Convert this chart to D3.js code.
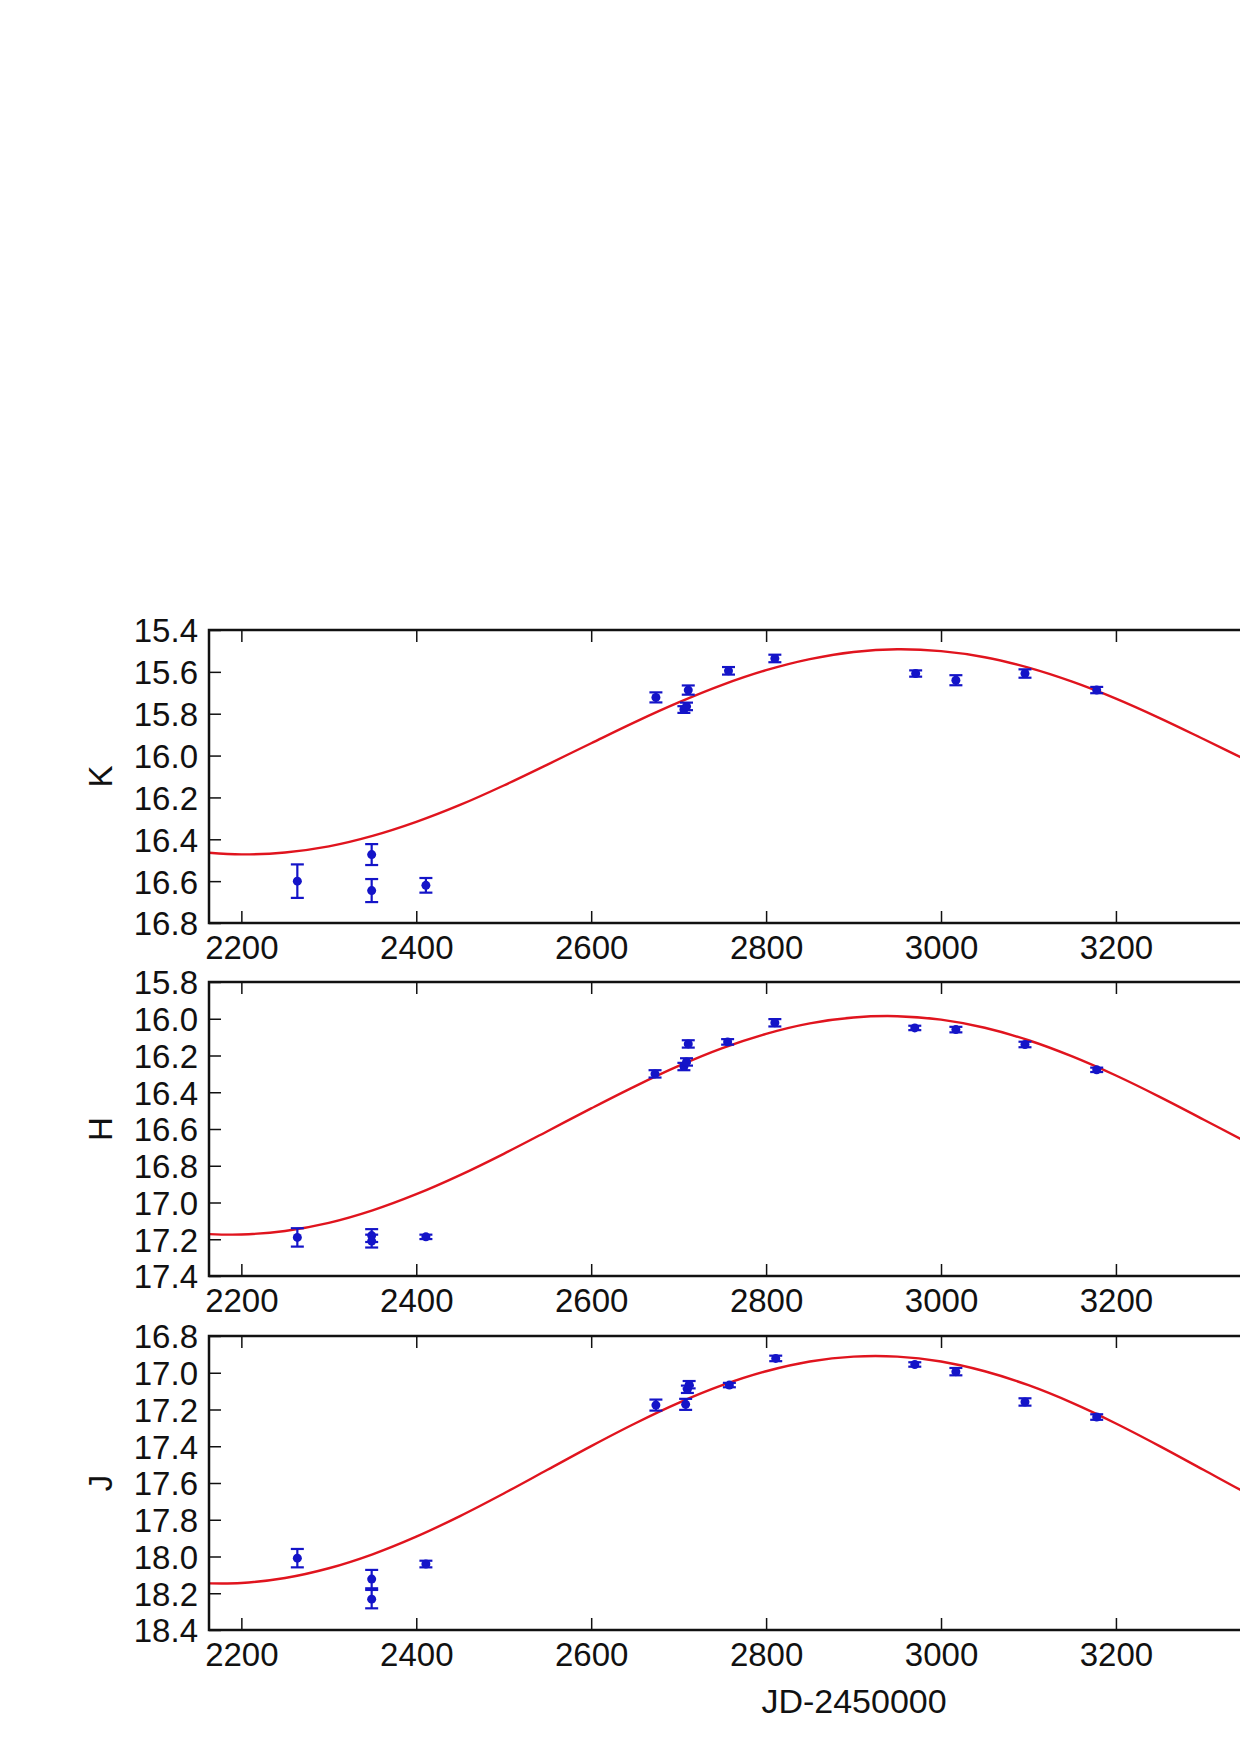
<!DOCTYPE html>
<html>
<head>
<meta charset="utf-8">
<script src="https://cdn.jsdelivr.net/npm/d3@7"></script>
<style>
  html, body { margin: 0; padding: 0; background: #fff; }
  svg { display: block; }
  text { font-family: "Liberation Sans", Arial, sans-serif; fill: #111; }
</style>
</head>
<body>
<svg id="chart" width="1240" height="1755"></svg>
<script>
// ---------------- data ----------------
const bands = ["K", "H", "J"];
const xTicks = [2200, 2400, 2600, 2800, 3000, 3200];
const kTicks = [15.4, 15.6, 15.8, 16.0, 16.2, 16.4, 16.6, 16.8];
const hTicks = [15.8, 16.0, 16.2, 16.4, 16.6, 16.8, 17.0, 17.2, 17.4];
const jTicks = [16.8, 17.0, 17.2, 17.4, 17.6, 17.8, 18.0, 18.2, 18.4];
const kDomain = [15.4, 16.8];
const hDomain = [15.8, 17.4];
const jDomain = [16.8, 18.4];
const xDomain = [2163, 3638];

const kJD  = [2264, 2349, 2349, 2411, 2674, 2706, 2709, 2711, 2757, 2810, 2971, 3017, 3096, 3178];
const kMag = [16.60, 16.473, 16.645, 16.62, 15.722, 15.78, 15.765, 15.687, 15.595, 15.536, 15.608, 15.64, 15.608, 15.687];
const kErr = [0.08, 0.05, 0.055, 0.035, 0.024, 0.016, 0.018, 0.022, 0.018, 0.018, 0.015, 0.024, 0.02, 0.015];

const hJD  = [2264, 2349, 2349, 2411, 2673, 2706, 2709, 2711, 2756, 2810, 2970, 3017, 3096, 3178];
const hMag = [17.19, 17.18, 17.21, 17.187, 16.30, 16.26, 16.235, 16.137, 16.126, 16.022, 16.05, 16.059, 16.14, 16.278];
const hErr = [0.05, 0.035, 0.035, 0.012, 0.02, 0.02, 0.02, 0.02, 0.015, 0.02, 0.012, 0.015, 0.015, 0.012];

const jJD  = [2264, 2349, 2349, 2411, 2674, 2708, 2710, 2712, 2758, 2811, 2970, 3017, 3096, 3178];
const jMag = [18.009, 18.123, 18.232, 18.041, 17.176, 17.172, 17.09, 17.065, 17.067, 16.922, 16.955, 16.994, 17.159, 17.241];
const jErr = [0.05, 0.05, 0.05, 0.018, 0.03, 0.03, 0.02, 0.02, 0.012, 0.015, 0.012, 0.02, 0.02, 0.015];

const curveJD = [2163, 2200, 2250, 2300, 2350, 2400, 2450, 2500, 2550, 2600, 2650, 2700, 2750,
                 2800, 2850, 2900, 2950, 3000, 3050, 3100, 3150, 3200, 3250, 3300, 3350, 3400];
const kCurve = [16.464, 16.472, 16.463, 16.434, 16.384, 16.317, 16.236, 16.143, 16.043, 15.941, 15.840, 15.746, 15.662,
                15.592, 15.539, 15.505, 15.492, 15.501, 15.530, 15.580, 15.647, 15.728, 15.821, 15.921, 16.023, 16.124];
const hCurve = [17.172, 17.174, 17.155, 17.111, 17.043, 16.955, 16.851, 16.735, 16.612, 16.488, 16.368, 16.257, 16.160,
                16.082, 16.025, 15.993, 15.986, 16.005, 16.049, 16.117, 16.205, 16.309, 16.425, 16.548, 16.672, 16.792];
const jCurve = [18.146, 18.144, 18.117, 18.064, 17.988, 17.892, 17.780, 17.657, 17.528, 17.399, 17.276, 17.164, 17.068,
                16.992, 16.939, 16.912, 16.912, 16.939, 16.992, 17.068, 17.164, 17.276, 17.399, 17.528, 17.657, 17.780];

const xLabel = "JD-2450000";

// ---------------- layout ----------------
const svg = d3.select("#chart");
const plotLeft = 209, plotRight = 1499;
const panels = [
  { name: bands[0], top: 630, bottom: 923, domain: kDomain, ticks: kTicks, jd: kJD, mag: kMag, err: kErr, curve: kCurve },
  { name: bands[1], top: 982, bottom: 1276, domain: hDomain, ticks: hTicks, jd: hJD, mag: hMag, err: hErr, curve: hCurve },
  { name: bands[2], top: 1336, bottom: 1630, domain: jDomain, ticks: jTicks, jd: jJD, mag: jMag, err: jErr, curve: jCurve }
];

const x = d3.scaleLinear().domain(xDomain).range([plotLeft, plotRight]);
const fontSize = 33;
const tickLen = 12;
const blue = "#1414c8";
const red = "#e0141e";
const fontFam = '"Liberation Sans", Arial, sans-serif';

panels.forEach((p, i) => {
  const y = d3.scaleLinear().domain(p.domain).range([p.top, p.bottom]);
  const g = svg.append("g");
  const clipId = "clip" + i;
  svg.append("clipPath").attr("id", clipId)
    .append("rect").attr("x", plotLeft).attr("y", p.top)
    .attr("width", plotRight - plotLeft).attr("height", p.bottom - p.top);

  // bottom axis (ticks inward, labels below)
  const xb = d3.axisBottom(x).tickValues(xTicks).tickSizeInner(-tickLen).tickSizeOuter(0)
    .tickPadding(13).tickFormat(d3.format("d"));
  const gxb = g.append("g").attr("transform", `translate(0,${p.bottom})`).call(xb);
  gxb.select(".domain").remove();
  gxb.selectAll("line").attr("stroke", "#111").attr("stroke-width", 1.5);
  gxb.selectAll("text").attr("font-size", fontSize).attr("dy", "0.71em")
    .style("font-family", fontFam).attr("fill", "#111");

  // top axis ticks (inward, no labels)
  const xt = d3.axisTop(x).tickValues(xTicks).tickSizeInner(-tickLen).tickSizeOuter(0).tickFormat("");
  const gxt = g.append("g").attr("transform", `translate(0,${p.top})`).call(xt);
  gxt.select(".domain").remove();
  gxt.selectAll("line").attr("stroke", "#111").attr("stroke-width", 1.5);

  // left axis
  const yl = d3.axisLeft(y).tickValues(p.ticks).tickSizeInner(-tickLen).tickSizeOuter(0)
    .tickPadding(11).tickFormat(d3.format(".1f"));
  const gyl = g.append("g").attr("transform", `translate(${plotLeft},0)`).call(yl);
  gyl.select(".domain").remove();
  gyl.selectAll("line").attr("stroke", "#111").attr("stroke-width", 1.5);
  gyl.selectAll("text").attr("font-size", fontSize).attr("dy", "0.36em")
    .style("font-family", fontFam).attr("fill", "#111");

  // right axis ticks
  const yr = d3.axisRight(y).tickValues(p.ticks).tickSizeInner(-tickLen).tickSizeOuter(0).tickFormat("");
  const gyr = g.append("g").attr("transform", `translate(${plotRight},0)`).call(yr);
  gyr.select(".domain").remove();
  gyr.selectAll("line").attr("stroke", "#111").attr("stroke-width", 1.5);

  // model curve
  const pts = curveJD.map((d, k) => [d, p.curve[k]]);
  g.append("path")
    .attr("clip-path", `url(#${clipId})`)
    .attr("d", d3.line().x(d => x(d[0])).y(d => y(d[1])).curve(d3.curveCatmullRom)(pts))
    .attr("fill", "none").attr("stroke", red).attr("stroke-width", 2.4);

  // data points with error bars
  const obs = p.jd.map((d, k) => ({ jd: d, mag: p.mag[k], err: p.err[k] }));
  const eb = g.append("g").attr("clip-path", `url(#${clipId})`);
  const capW = 6.5;
  obs.forEach(o => {
    const cx = x(o.jd), y1 = y(o.mag - o.err), y2 = y(o.mag + o.err);
    eb.append("line").attr("x1", cx).attr("x2", cx).attr("y1", y1).attr("y2", y2)
      .attr("stroke", blue).attr("stroke-width", 2.2);
    [y1, y2].forEach(yy => eb.append("line").attr("x1", cx - capW).attr("x2", cx + capW)
      .attr("y1", yy).attr("y2", yy).attr("stroke", blue).attr("stroke-width", 2.2));
    eb.append("circle").attr("cx", cx).attr("cy", y(o.mag)).attr("r", 4.5).attr("fill", blue);
  });

  // frame
  g.append("rect").attr("x", plotLeft).attr("y", p.top)
    .attr("width", plotRight - plotLeft).attr("height", p.bottom - p.top)
    .attr("fill", "none").attr("stroke", "#111").attr("stroke-width", 2.5);

  // y label
  g.append("text")
    .attr("transform", `translate(112,${(p.top + p.bottom) / 2}) rotate(-90)`)
    .attr("text-anchor", "middle").attr("font-size", fontSize)
    .text(p.name);
});

// x axis label
svg.append("text")
  .attr("x", (plotLeft + plotRight) / 2).attr("y", 1713)
  .attr("text-anchor", "middle").attr("font-size", 34)
  .text(xLabel);
</script>
</body>
</html>
